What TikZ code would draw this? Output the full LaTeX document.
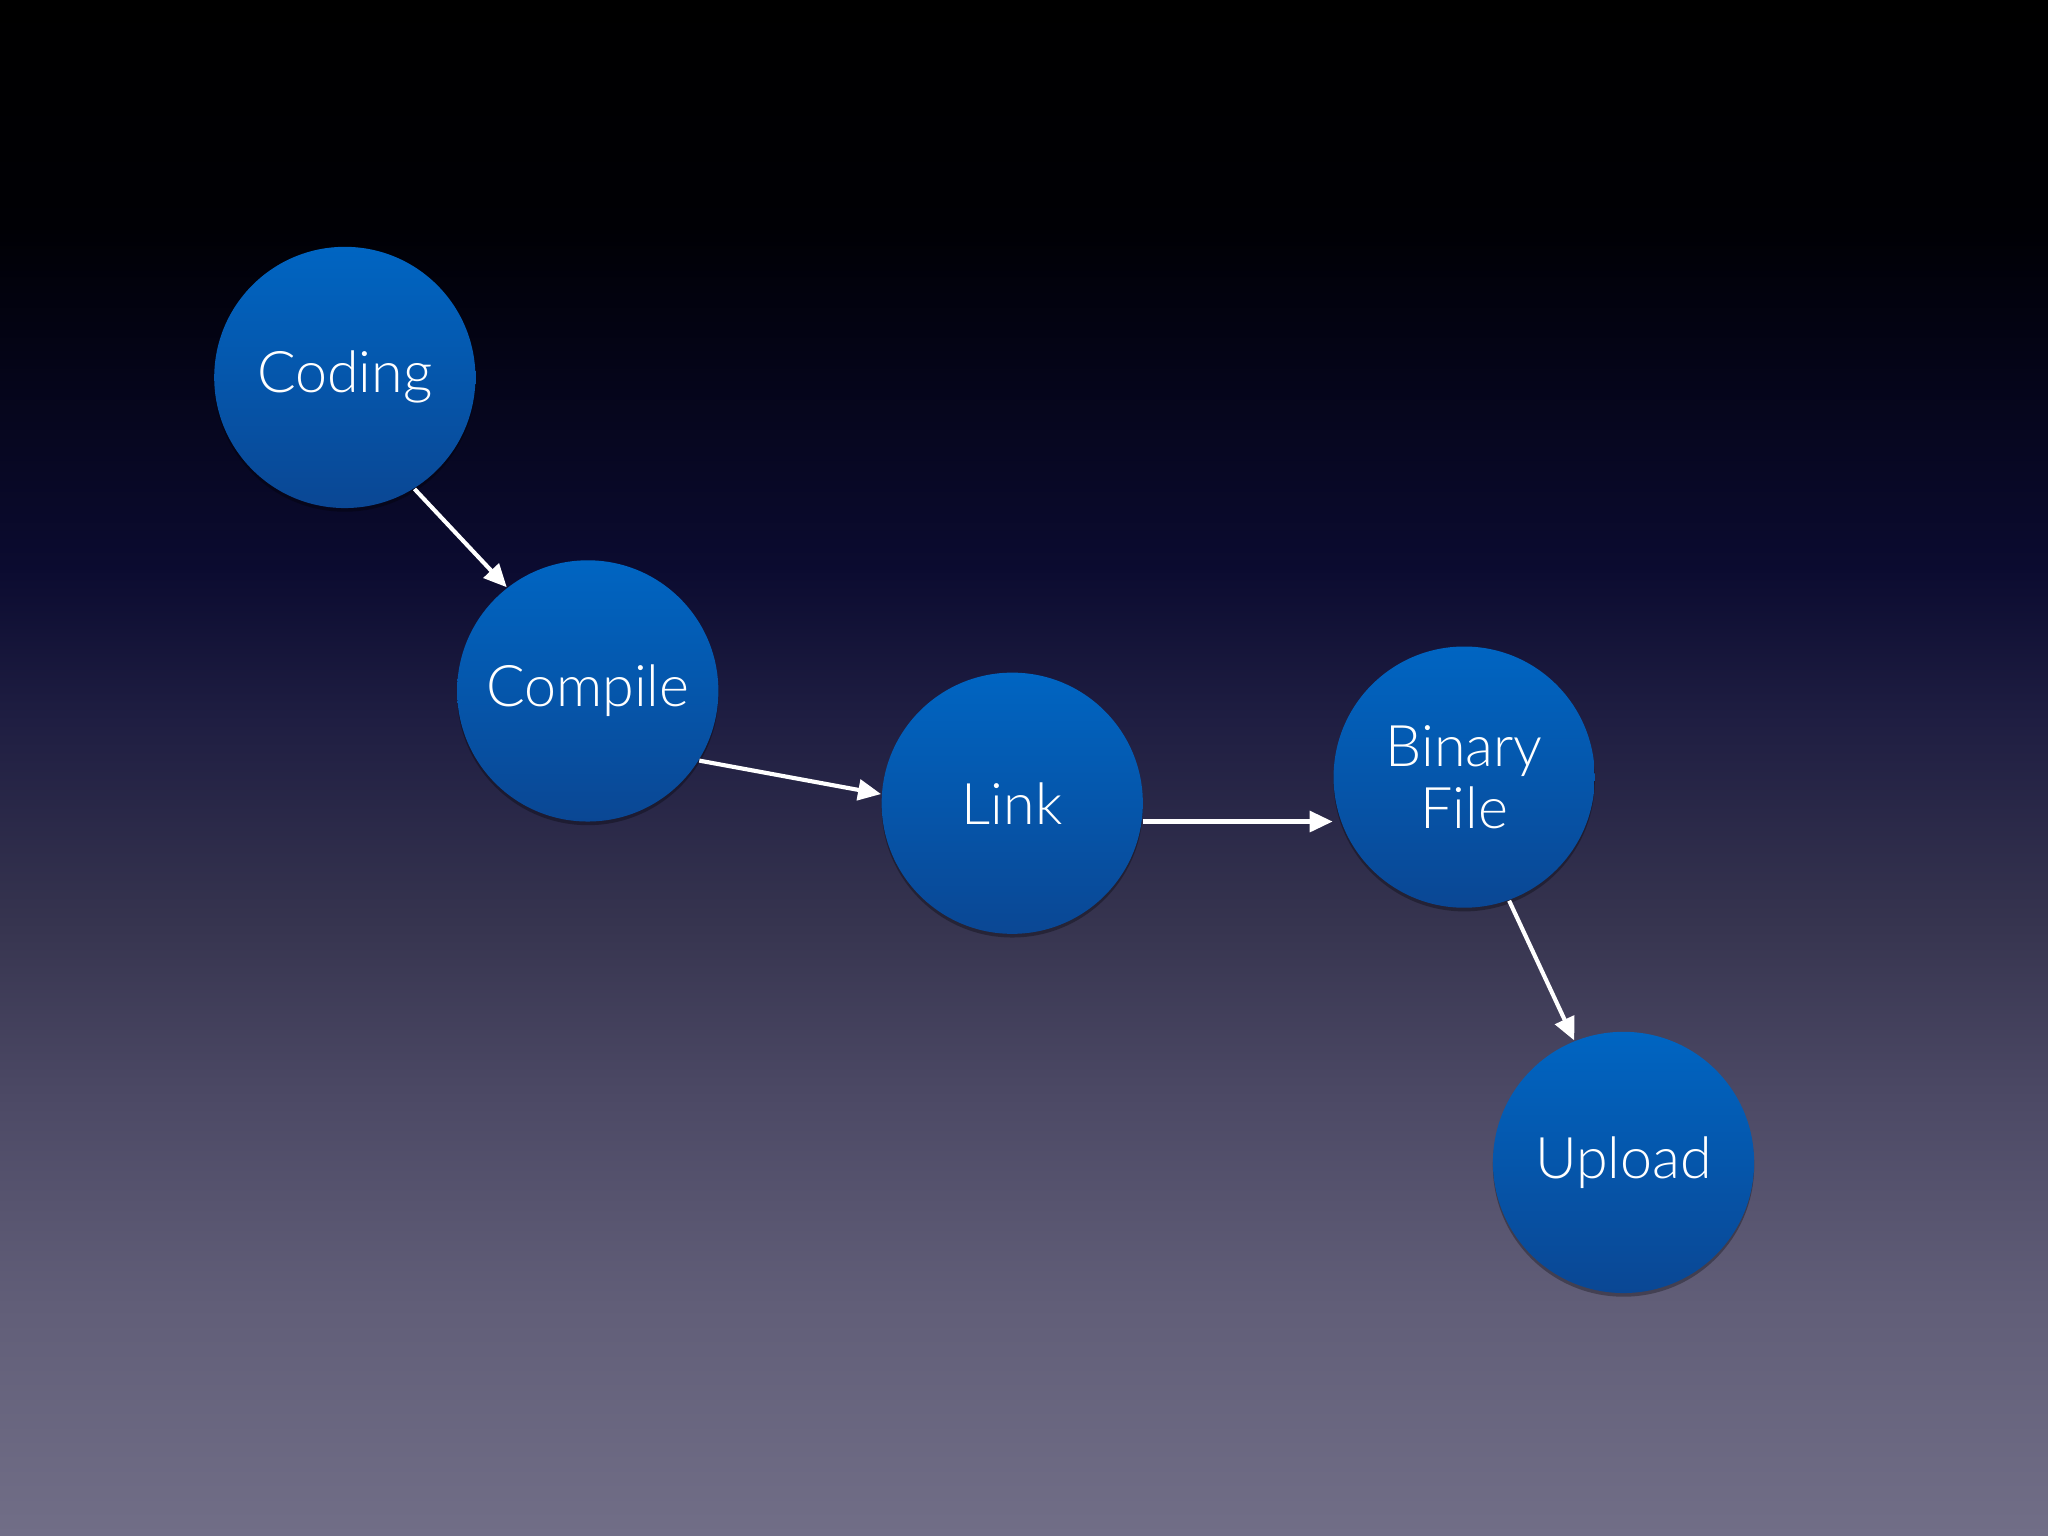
\documentclass[tikz,border=0pt]{standalone}
\usepackage{fontspec}
\setmainfont{Lato}[UprightFont=* Light]
\usepackage{tikz}
\usetikzlibrary{arrows.meta,shadows}
\usepackage{xcolor}
\definecolor{bubtop}{HTML}{0065C2}
\definecolor{bubbot}{HTML}{0A4794}
\definecolor{bgA}{RGB}{113,110,135}
\definecolor{bgB}{RGB}{97,94,120}
\definecolor{bgC}{RGB}{77,74,102}
\definecolor{bgD}{RGB}{54,52,79}
\definecolor{bgE}{RGB}{31,30,66}
\definecolor{bgF}{RGB}{11,11,48}
\definecolor{bgG}{RGB}{5,5,26}
\definecolor{bgH}{RGB}{0,0,5}
\pgfdeclareverticalshading{slidebg}{100bp}{color(0bp)=(bgA); color(25bp)=(bgA);
  color(32.5bp)=(bgB); color(39bp)=(bgC); color(45bp)=(bgD); color(51.5bp)=(bgE);
  color(56.5bp)=(bgF); color(62.5bp)=(bgG); color(67.5bp)=(bgH);
  color(75bp)=(black); color(100bp)=(black)}

\begin{document}
\begin{tikzpicture}[>={Triangle[length=5pt,width=4.5pt]},
  bubble/.style={circle,minimum size=2cm,inner sep=0pt,top color=bubtop,bottom color=bubbot,
    text=white,align=center,font=\fontsize{12.5}{13.5}\selectfont,
    drop shadow={shadow xshift=0pt,shadow yshift=-0.8pt,shadow scale=1.0,fill=black,opacity=0.3}},
  flowarrow/.style={->,white,line width=0.9pt}]
\useasboundingbox (0,0) rectangle (15.68,11.76);
\shade[shading=slidebg] (0,0) rectangle (15.68,11.76);
\node[bubble] (coding) at (2.64,8.87) {Coding};
\node[bubble] (compile) at (4.50,6.47) {Compile};
\node[bubble] (link) at (7.75,5.61) {Link};
\node[bubble] (binfile) at (11.21,5.81) {Binary\\File};
\node[bubble] (upload) at (12.43,2.86) {Upload};
\draw[flowarrow] (coding.-58) -- (compile.128);
\draw[flowarrow] (compile.-32) -- (link.176);
\draw[flowarrow] (link.-8) -- (link.-8 -| binfile.west);
\draw[flowarrow] (binfile.-70) -- (upload.112);
\end{tikzpicture}
\end{document}
